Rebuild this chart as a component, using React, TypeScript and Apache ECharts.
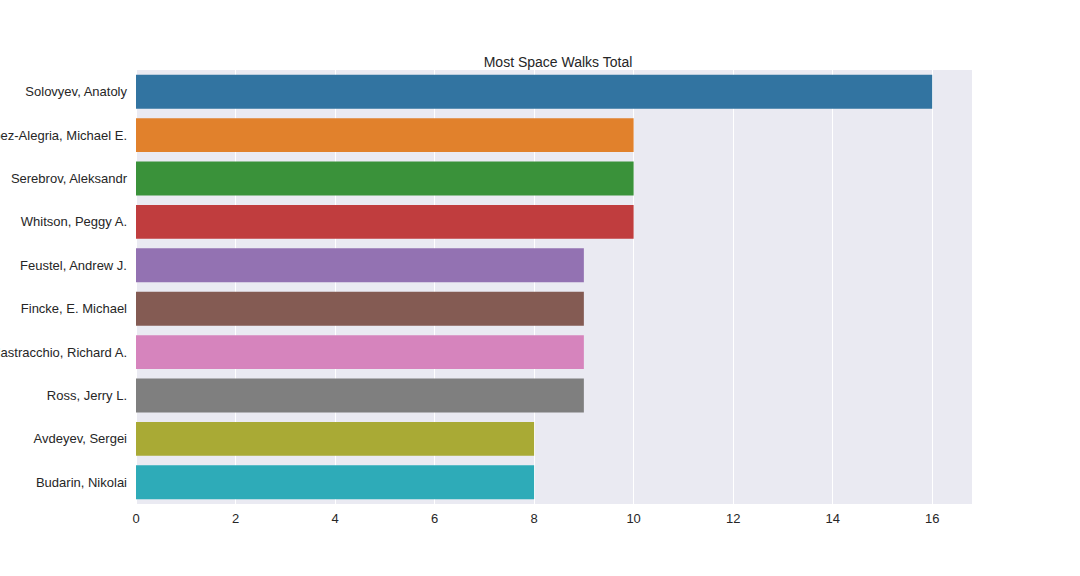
import { useEffect, useRef } from "react";
import * as echarts from "echarts";

const names = [
  "Solovyev, Anatoly",
  "Lopez-Alegria, Michael E.",
  "Serebrov, Aleksandr",
  "Whitson, Peggy A.",
  "Feustel, Andrew J.",
  "Fincke, E. Michael",
  "Mastracchio, Richard A.",
  "Ross, Jerry L.",
  "Avdeyev, Sergei",
  "Budarin, Nikolai",
];
const walks = [16, 10, 10, 10, 9, 9, 9, 9, 8, 8];
const colors = ["#3274a1", "#e1812c", "#3a923a", "#c03d3e", "#9372b2", "#845b53", "#d684bd", "#7f7f7f", "#a9aa35", "#2eabb8"];

export default function App() {
  const ref = useRef<HTMLDivElement | null>(null);

  useEffect(() => {
    if (!ref.current) return;
    const chart = echarts.init(ref.current, undefined, { renderer: "svg" });
    chart.setOption({
      animation: false,
      backgroundColor: "#ffffff",
      textStyle: { fontFamily: "Liberation Sans" },
      title: {
        text: "Most Space Walks Total",
        left: 553,
        top: 50,
        textAlign: "center",
        textStyle: { fontSize: 14, fontWeight: "normal", color: "#262626" },
      },
      grid: {
        left: 136,
        right: 108,
        top: 70,
        bottom: 72,
        backgroundColor: "#eaeaf2",
        show: true,
        borderWidth: 0,
        containLabel: false,
        outerBoundsMode: "none",
      },
      xAxis: {
        type: "value",
        min: 0,
        max: 16.8,
        interval: 2,
        axisLine: { show: false },
        axisTick: { show: false },
        splitLine: { lineStyle: { color: "#ffffff", width: 1 } },
        axisLabel: { color: "#262626", fontSize: 13, margin: 8, showMaxLabel: false },
      },
      yAxis: {
        type: "category",
        data: names,
        inverse: true,
        axisLine: { show: false },
        axisTick: { show: false },
        axisLabel: { color: "#262626", fontSize: 13, margin: 9 },
      },
      series: [
        {
          type: "bar",
          data: walks.map((v, i) => ({ value: v, itemStyle: { color: colors[i] } })),
          barWidth: "78%",
        },
      ],
    });
    return () => chart.dispose();
  }, []);

  return <div ref={ref} style={{ position: "absolute", left: 0, top: 0, width: 1080, height: 576 }} />;
}
